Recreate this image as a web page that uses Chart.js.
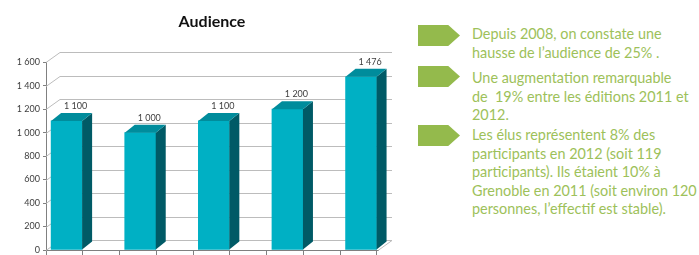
<!DOCTYPE html>
<html>
<head>
<meta charset="utf-8">
<script src="https://cdn.jsdelivr.net/npm/chart.js@4"></script>
<style>
  body { margin: 0; background: #fff; width: 699px; height: 255px; overflow: hidden; position: relative; font-family: Lato, sans-serif; }
  #wrap { position: absolute; left: 0; top: 0; width: 410px; height: 255px; }
  .arrow { position: absolute; left: 418px; width: 42px; height: 21px; background: #94ba4c;
           clip-path: polygon(0 0, 72% 0, 100% 50%, 72% 100%, 0 100%); }
  .note { position: absolute; left: 472px; color: #9dc15a; font-size: 14.4px; line-height: 18.5px; white-space: pre; }
</style>
</head>
<body>
<div id="wrap"><canvas id="audienceChart" width="410" height="255"></canvas></div>

<div class="arrow" style="top:25px"></div>
<div class="note" style="top:25px">Depuis 2008, on constate une
hausse de l’audience de 25% .</div>

<div class="arrow" style="top:66px"></div>
<div class="note" style="top:69px">Une augmentation remarquable
de  19% entre les éditions 2011 et
2012.</div>

<div class="arrow" style="top:125px"></div>
<div class="note" style="top:126px">Les élus représentent 8% des
participants en 2012 (soit 119
participants). Ils étaient 10% à
Grenoble en 2011 (soit environ 120
personnes, l’effectif est stable).</div>

<script>
// données
const editions = ['1', '2', '3', '4', '5'];
const audience = [1100, 1000, 1100, 1200, 1476];
const yTicks = [0, 200, 400, 600, 800, 1000, 1200, 1400, 1600];

const FRONT = '#00b0c4';
const SIDE = '#005a66';
const TOP = '#008c9c';

// 1 600 -> "1 600"
function fmt(v) {
    return String(v).replace(/\B(?=(\d{3})+(?!\d))/g, ' ');
}

// quadrillage en perspective (mur du fond)
const wallPlugin = {
    id: 'wall',
    beforeDatasetsDraw(chart) {
        const { ctx, chartArea, scales } = chart;
        const dx = 14, dy = 10;
        ctx.save();
        ctx.strokeStyle = '#bcbcbc';
        ctx.lineWidth = 1;
        yTicks.forEach(t => {
            const y = Math.round(scales.y.getPixelForValue(t)) + 0.5;
            ctx.beginPath();
            ctx.moveTo(chartArea.left, y);
            ctx.lineTo(chartArea.left + dx, y - dy);
            ctx.lineTo(chartArea.right + dx, y - dy);
            ctx.stroke();
        });
        // coin du sol
        const yb = Math.round(scales.y.getPixelForValue(0)) + 0.5;
        ctx.beginPath();
        ctx.moveTo(chartArea.right, yb);
        ctx.lineTo(chartArea.right + dx, yb - dy);
        ctx.stroke();
        ctx.restore();
    }
};

// faces 3D des barres + étiquettes
const bar3dPlugin = {
    id: 'bar3d',
    afterDatasetsDraw(chart) {
        const { ctx } = chart;
        const dx = 10, dy = 8;
        ctx.save();
        chart.getDatasetMeta(0).data.forEach((bar, i) => {
            const { x, y, base, width } = bar.getProps(['x', 'y', 'base', 'width'], true);
            const l = x - width / 2, r = x + width / 2;
            ctx.fillStyle = SIDE;
            ctx.beginPath();
            ctx.moveTo(r, y);
            ctx.lineTo(r + dx, y - dy);
            ctx.lineTo(r + dx, base - dy);
            ctx.lineTo(r, base);
            ctx.closePath();
            ctx.fill();
            ctx.fillStyle = TOP;
            ctx.beginPath();
            ctx.moveTo(l, y);
            ctx.lineTo(l + dx, y - dy);
            ctx.lineTo(r + dx, y - dy);
            ctx.lineTo(r, y);
            ctx.closePath();
            ctx.fill();

            ctx.fillStyle = '#404040';
            ctx.font = '9px Lato';
            ctx.textAlign = 'center';
            ctx.textBaseline = 'middle';
            ctx.fillText(fmt(audience[i]), x + 9, y - 15);
        });
        ctx.restore();
    }
};

new Chart(document.getElementById('audienceChart'), {
    type: 'bar',
    data: {
        labels: editions,
        datasets: [{
            data: audience.map((v, i) => ({ x: i, y: v })),
            backgroundColor: FRONT,
            barThickness: 31,
            borderWidth: 0
        }]
    },
    options: {
        responsive: false,
        animation: false,
        devicePixelRatio: 1,
        layout: { padding: { left: 6, right: 32, top: 0, bottom: 0 } },
        plugins: {
            legend: { display: false },
            tooltip: { enabled: false },
            title: {
                display: true,
                fullSize: false,
                text: 'Audience',
                color: '#111',
                font: { family: 'Lato', size: 16, weight: 'bold' },
                padding: { top: 12, bottom: 31 }
            }
        },
        scales: {
            x: {
                type: 'linear',
                offset: false,
                min: -0.28,
                max: 4.23,
                afterBuildTicks: s => {
                    s.ticks = [];
                    editions.forEach((_, i) => {
                        s.ticks.push({ value: i - 0.28 });
                        s.ticks.push({ value: i + 0.215 });
                    });
                },
                afterFit: s => { s.height = 5; },
                ticks: { display: false },
                grid: { drawOnChartArea: false, offset: false, tickLength: 5, color: '#808080' },
                border: { color: '#808080' }
            },
            y: {
                min: 0,
                max: 1600,
                afterBuildTicks: s => { s.ticks = yTicks.map(v => ({ value: v })); },
                afterFit: s => { s.width = 40; s.paddingBottom = 0; },
                ticks: {
                    padding: 3,
                    color: '#404040',
                    font: { family: 'Lato', size: 9 },
                    callback: v => fmt(v)
                },
                grid: { drawOnChartArea: false, tickLength: 3, color: '#808080' },
                border: { color: '#808080' }
            }
        }
    },
    plugins: [wallPlugin, bar3dPlugin]
});
</script>
</body>
</html>
